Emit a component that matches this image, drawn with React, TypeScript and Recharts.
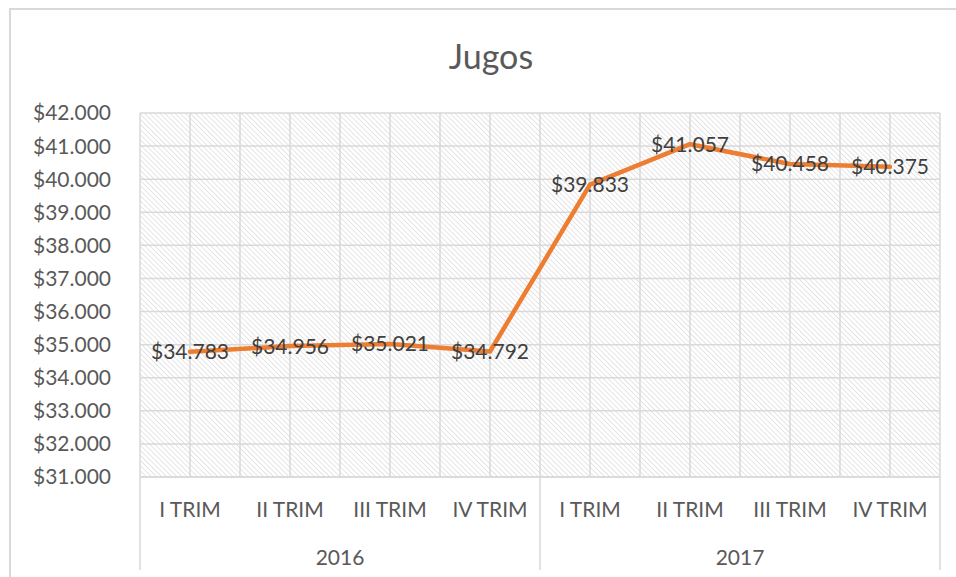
import React from "react";
import {
  LineChart,
  Line,
  XAxis,
  YAxis,
  CartesianGrid,
  LabelList,
} from "recharts";

const quarters = ["I TRIM", "II TRIM", "III TRIM", "IV TRIM", "I TRIM", "II TRIM", "III TRIM", "IV TRIM"];
const years = ["2016", "2016", "2016", "2016", "2017", "2017", "2017", "2017"];
const sales = [34783, 34956, 35021, 34792, 39833, 41057, 40458, 40375];
const yTicks = [31000, 32000, 33000, 34000, 35000, 36000, 37000, 38000, 39000, 40000, 41000, 42000];

const data = quarters.map((q, i) => ({ q, year: years[i], value: sales[i] }));

const W = 956;
const H = 577;
const MARGIN = { top: 113, right: 16, bottom: 0, left: 0 };
const Y_W = 140;
const X_H = 100;
const PLOT_W = W - MARGIN.left - MARGIN.right - Y_W;
const BAND = PLOT_W / quarters.length;

const FONT = "Lato, 'Open Sans', sans-serif";
const GRID = "#d9d9d9";
const TEXT = "#595959";

const money = (v: number) => "$" + (v / 1000).toFixed(3);

// quarter label + (at the start of each year) separator line and year label
function QuarterTick(props: any) {
  const { x, y, payload, index } = props;
  const first = index === 0 || years[index] !== years[index - 1];
  const last = index === quarters.length - 1;
  return (
    <g>
      <text
        x={x}
        y={y + 31}
        textAnchor="middle"
        dominantBaseline="central"
        fontSize={21}
        fill={TEXT}
        fontFamily={FONT}
      >
        {payload.value}
      </text>
      {first && (
        <>
          <line x1={x - BAND / 2} x2={x - BAND / 2} y1={y} y2={y + 93} stroke={GRID} strokeWidth={1.5} />
          <text
            x={x + BAND * 1.5}
            y={y + 79}
            textAnchor="middle"
            dominantBaseline="central"
            fontSize={21}
            fill={TEXT}
            fontFamily={FONT}
          >
            {years[index]}
          </text>
        </>
      )}
      {last && (
        <line x1={x + BAND / 2} x2={x + BAND / 2} y1={y} y2={y + 93} stroke={GRID} strokeWidth={1.5} />
      )}
    </g>
  );
}

export default function App() {
  return (
    <div style={{ position: "relative", width: W, height: H, overflow: "hidden", background: "#fff" }}>
      <style>{`body{margin:0;overflow:hidden}`}</style>
      <div
        style={{
          position: "absolute",
          left: 9,
          top: 8,
          width: 1000,
          height: 700,
          border: "2px solid #d9d9d9",
        }}
      />
      <div
        style={{
          position: "absolute",
          left: 0,
          top: 36,
          width: 982,
          textAlign: "center",
          fontFamily: FONT,
          fontSize: 34,
          lineHeight: "40px",
          color: TEXT,
        }}
      >
        Jugos
      </div>
      <div style={{ position: "absolute", left: 0, top: 0 }}>
        <LineChart width={W} height={H} data={data} margin={MARGIN}>
          <defs>
            <pattern
              id="hatch"
              width="3.6"
              height="3.6"
              patternUnits="userSpaceOnUse"
              patternTransform="rotate(-45)"
            >
              <rect width="3.6" height="3.6" fill="#fff" />
              <line x1="0" y1="0" x2="0" y2="3.6" stroke="#d4d4d4" strokeWidth="1.2" />
            </pattern>
          </defs>
          <CartesianGrid
            fill="url(#hatch)"
            stroke={GRID}
            strokeWidth={1.5}
            verticalCoordinatesGenerator={({ offset }: any) =>
              Array.from({ length: quarters.length * 2 + 1 }, (_, i) => offset.left + (i * offset.width) / (quarters.length * 2))
            }
          />
          <XAxis
            dataKey="q"
            height={X_H}
            interval={0}
            padding={{ left: BAND / 2, right: BAND / 2 }}
            axisLine={{ stroke: GRID, strokeWidth: 1.5 }}
            tickLine={false}
            tickSize={0}
            tickMargin={0}
            tick={<QuarterTick />}
            allowDuplicatedCategory
          />
          <YAxis
            width={Y_W}
            domain={[31000, 42000]}
            ticks={yTicks}
            tickFormatter={money}
            axisLine={false}
            tickLine={false}
            tickSize={0}
            tickMargin={29}
            interval={0}
            tick={{ fontSize: 21, fill: TEXT, fontFamily: FONT }}
          />
          <Line
            type="linear"
            dataKey="value"
            stroke="#ED7D31"
            strokeWidth={4.5}
            strokeLinejoin="round"
            strokeLinecap="round"
            dot={false}
            activeDot={false}
            isAnimationActive={false}
          >
            <LabelList
              dataKey="value"
              position="center"
              formatter={(v: any) => money(Number(v))}
              fontSize={21}
              fill="#404040"
              fontFamily={FONT}
            />
          </Line>
        </LineChart>
      </div>
    </div>
  );
}
